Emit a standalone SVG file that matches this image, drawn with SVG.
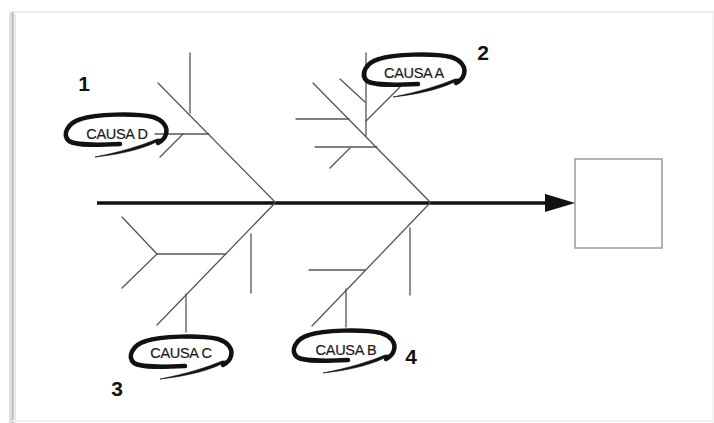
<svg xmlns="http://www.w3.org/2000/svg" width="714" height="423" viewBox="0 0 714 423">
  <defs>
    <style>
      .bone { stroke: #555; stroke-width: 1.3; fill: none; stroke-linecap: round; }
      .loop { stroke: #111; stroke-width: 4.5; fill: none; stroke-linecap: round; stroke-linejoin: round; }
      .tail { fill: #111; stroke: #111; stroke-width: 0.6; }
      .lbl { font-family: "Liberation Sans", Arial, sans-serif; font-size: 14.5px; fill: #1a1a1a; stroke: #1a1a1a; stroke-width: 0.2; text-anchor: middle; letter-spacing: -0.3px; }
      .num { font-family: "Liberation Sans", Arial, sans-serif; font-size: 21px; font-weight: bold; fill: #111; text-anchor: middle; }
    </style>
    <!-- hand-drawn loop around a cause label, origin at its top-left -->
    <g id="loop">
      <path class="loop" d="M55,34 C35,35 12,36 4,31 C-3,25 2,13 16,9 C30,4 70,3 88,7 C98,10 103,17 101,24 C100,28 97,31 93,33"/>
      <path class="tail" d="M97,29 C82,38 58,44 30,47 C56,42 78,35 92,29 Z"/>
    </g>
    <marker id="head" markerWidth="10" markerHeight="6" refX="0" refY="2.6" orient="auto" markerUnits="strokeWidth">
      <path d="M0,0 L8.6,2.6 L0,5.2 Z" fill="#111"/>
    </marker>
  </defs>

  <!-- page -->
  <rect x="0" y="0" width="714" height="423" fill="#fff"/>
  <g id="frame">
    <line x1="12" y1="12" x2="714" y2="12" stroke="#e6e6e6" stroke-width="1.5"/>
    <line x1="10" y1="12" x2="10" y2="423" stroke="#e2e2e2" stroke-width="2"/>
    <line x1="12.5" y1="12" x2="12.5" y2="423" stroke="#b4b4b4" stroke-width="2"/>
    <line x1="15" y1="14" x2="15" y2="423" stroke="#e8e8e8" stroke-width="2"/>
    <line x1="12" y1="421" x2="714" y2="421" stroke="#efefef" stroke-width="1.5"/>
    <line x1="713" y1="12" x2="713" y2="423" stroke="#f0f0f0" stroke-width="1.5"/>
  </g>

  <g id="connectors">
    <!-- spine -->
    <line id="spine" x1="97" y1="203" x2="545" y2="203" stroke="#111" stroke-width="3.5" marker-end="url(#head)"/>

    <!-- bone D (upper left) -->
    <g id="bone-d" class="bone">
      <line x1="158" y1="83" x2="275" y2="202"/>
      <line x1="190" y1="53" x2="190" y2="113"/>
      <line x1="155" y1="134" x2="209" y2="134"/>
      <line x1="160" y1="157" x2="183" y2="134"/>
    </g>

    <!-- bone A (upper right) -->
    <g id="bone-a" class="bone">
      <line x1="313" y1="83" x2="430" y2="202"/>
      <line x1="366" y1="53" x2="366" y2="136"/>
      <line x1="340" y1="79" x2="365" y2="102"/>
      <line x1="366" y1="121" x2="400" y2="87"/>
      <line x1="296" y1="119" x2="349" y2="119"/>
      <line x1="315" y1="147" x2="377" y2="147"/>
      <line x1="330" y1="168" x2="350" y2="148"/>
    </g>

    <!-- bone C (lower left) -->
    <g id="bone-c" class="bone">
      <line x1="275" y1="203" x2="157" y2="325"/>
      <line x1="251" y1="234" x2="251" y2="293"/>
      <line x1="157" y1="254" x2="226" y2="254"/>
      <polyline points="122,217 157,254 122,288"/>
      <line x1="186" y1="294" x2="186" y2="332"/>
    </g>

    <!-- bone B (lower right) -->
    <g id="bone-b" class="bone">
      <line x1="430" y1="203" x2="312" y2="326"/>
      <line x1="410" y1="228" x2="410" y2="295"/>
      <line x1="309" y1="270" x2="365" y2="270"/>
      <line x1="346" y1="289" x2="346" y2="327"/>
    </g>
  </g>

  <!-- effect box -->
  <g id="effect">
    <rect x="575" y="159" width="87" height="89" fill="#fff" stroke="#9a9a9a" stroke-width="1.5"/>
  </g>

  <!-- causes -->
  <g id="cause-d">
    <use href="#loop" x="65" y="110"/>
    <text class="lbl" x="117" y="138.5">CAUSA D</text>
    <text class="num" x="84" y="90.5">1</text>
  </g>
  <g id="cause-a">
    <use href="#loop" x="363" y="50"/>
    <text class="lbl" x="414" y="78">CAUSA A</text>
    <text class="num" x="483" y="59.5">2</text>
  </g>
  <g id="cause-c">
    <use href="#loop" x="130" y="332"/>
    <text class="lbl" x="181" y="357.5">CAUSA C</text>
    <text class="num" x="117" y="395.5">3</text>
  </g>
  <g id="cause-b">
    <use href="#loop" x="293" y="326"/>
    <text class="lbl" x="346" y="354.5">CAUSA B</text>
    <text class="num" x="411" y="363.5">4</text>
  </g>
</svg>
